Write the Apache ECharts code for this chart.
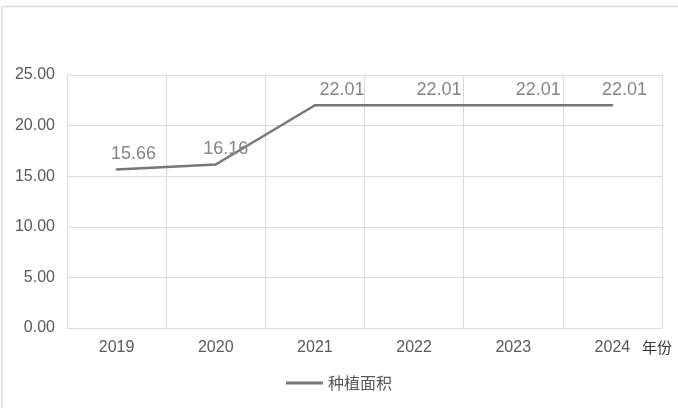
<!DOCTYPE html>
<html>
<head>
<meta charset="utf-8">
<script src="https://cdn.jsdelivr.net/npm/echarts@6/dist/echarts.min.js"></script>
<style>html,body{margin:0;padding:0;background:#fff}#c{width:678px;height:408px}</style>
</head>
<body>
<div id="c"></div>
<script>
var years = ['2019', '2020', '2021', '2022', '2023', '2024'];
var area = [15.66, 16.16, 22.01, 22.01, 22.01, 22.01];
var labelShift = [17, 10, 27, 25, 25, 12];
var seriesName = '种植面积';
var xName = '年份';

var chart = echarts.init(document.getElementById('c'));
var data = area.map(function (v, i) {
  return { value: v, label: { offset: [labelShift[i], 0] } };
});
chart.setOption({
  animation: false,
  backgroundColor: '#fff',
  grid: { left: 67, right: 16, top: 75, bottom: 80, containLabel: false },
  graphic: [{
    type: 'polyline',
    shape: { points: [[2, 408], [2, 6.5], [678, 6.5]] },
    style: { stroke: '#d9d9d9', lineWidth: 1.5, fill: null }
  }],
  legend: {
    bottom: 12,
    left: 'center',
    icon: 'rect',
    itemWidth: 37,
    itemHeight: 3,
    itemGap: 5,
    itemStyle: { color: '#777', opacity: 1 },
    textStyle: { color: '#595959', fontSize: 16, fontFamily: 'Noto Sans CJK SC' },
    data: [seriesName]
  },
  xAxis: {
    type: 'category',
    data: years,
    boundaryGap: true,
    name: xName,
    nameLocation: 'end',
    nameGap: -20,
    nameTextStyle: { color: '#333', fontSize: 15, fontFamily: 'Noto Sans CJK SC', verticalAlign: 'top', padding: [12, 0, 0, 0] },
    axisLine: { lineStyle: { color: '#d9d9d9', width: 1 } },
    axisTick: { show: false },
    splitLine: { show: true, lineStyle: { color: '#d9d9d9', width: 1 } },
    axisLabel: { color: '#595959', fontSize: 16, margin: 12, fontFamily: 'Liberation Sans' }
  },
  yAxis: {
    type: 'value',
    min: 0, max: 25, interval: 5,
    axisLine: { show: false },
    axisTick: { show: false },
    splitLine: { lineStyle: { color: '#d9d9d9', width: 1 } },
    axisLabel: {
      color: '#595959', fontSize: 16, margin: 12, fontFamily: 'Liberation Sans',
      formatter: function (v) { return v.toFixed(2); }
    }
  },
  series: [{
    name: seriesName,
    type: 'line',
    data: data,
    symbol: 'circle',
    symbolSize: 2,
    showSymbol: true,
    lineStyle: { color: '#777', width: 2.5 },
    itemStyle: { color: '#777' },
    label: {
      show: true,
      position: 'top',
      distance: 5,
      color: '#858585',
      fontSize: 18,
      fontFamily: 'Liberation Sans',
      formatter: function (p) { return p.value.toFixed(2); }
    }
  }]
});
</script>
</body>
</html>
